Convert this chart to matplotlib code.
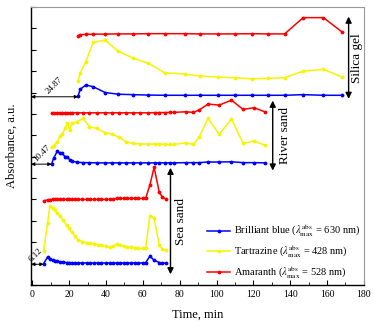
import matplotlib
matplotlib.use("Agg")
from matplotlib import pyplot as plt
from matplotlib.ticker import MultipleLocator

plt.rcParams['font.family'] = ['Liberation Serif', 'DejaVu Serif']
plt.rcParams['mathtext.fontset'] = 'stix'

# time points (min) and absorbance (a.u., curves shifted for each sorbent)
silica_t = [24.87, 26, 29, 33, 39.5, 46.5, 54.5, 63, 72, 83, 91, 101, 110, 119, 128, 137, 147, 158, 168]
silica_blue = [8.85, 9.15, 9.35, 9.27, 9.0, 8.92, 8.9, 8.88, 8.87, 8.87, 8.87, 8.87, 8.87, 8.87, 8.87, 8.87, 8.9, 8.87, 8.87]
silica_yellow = [9.55, 9.92, 10.43, 11.34, 11.45, 10.93, 10.62, 10.36, 9.92, 9.86, 9.77, 9.72, 9.69, 9.64, 9.66, 9.69, 10.0, 10.08, 9.73]
silica_red = [11.66, 11.7, 11.72, 11.73, 11.73, 11.74, 11.74, 11.75, 11.75, 11.75, 11.74, 11.74, 11.74, 11.75, 11.74, 11.74, 12.5, 12.5, 11.84]

river_t = [10.47, 11.5, 13.6, 15, 16.3, 17.7, 19, 20.4, 21.4, 24.4, 27.6, 31, 35, 39.5, 43.5, 47, 51,
           54.5, 58.5, 63, 66.5, 69, 72, 74.6, 77, 83.3, 87.3, 90.5, 95.4, 101.4, 108.1, 114.4, 120.4, 126.1]
river_blue = [5.65, 5.92, 6.26, 6.15, 6.15, 6.0, 6.0, 5.84, 5.79, 5.74, 5.72, 5.72, 5.71, 5.71, 5.71, 5.71, 5.71,
              5.71, 5.71, 5.71, 5.71, 5.71, 5.71, 5.71, 5.71, 5.72, 5.72, 5.72, 5.75, 5.75, 5.76, 5.72, 5.72, 5.71]
river_yellow = [6.46, 6.51, 6.7, 6.95, 7.05, 7.32, 7.56, 7.24, 7.56, 7.63, 7.79, 7.4, 7.32, 7.12, 7.06, 6.9, 6.7,
                6.62, 6.59, 6.59, 6.59, 6.59, 6.58, 6.57, 6.57, 6.65, 6.57, 6.9, 7.79, 7.04, 7.76, 6.62, 6.73, 6.54]
river_red = [8.02, 8.04, 8.05, 8.05, 8.05, 8.05, 8.05, 8.05, 8.05, 8.05, 8.05, 8.05, 8.05, 8.05, 8.05, 8.05, 8.05,
             8.05, 8.05, 8.05, 8.06, 8.06, 8.06, 8.07, 8.07, 8.1, 8.07, 8.18, 8.46, 8.41, 8.64, 8.21, 8.29, 8.1]

sea_t = [6.12, 8.3, 9.6, 11, 12.3, 13.5, 15, 16.5, 18.6, 20, 21.3, 23, 25, 27, 29.5, 31.5, 33.5, 35.5,
         37.5, 40, 42, 44, 45.7, 47.5, 49.5, 51.5, 53.5, 55.5, 57.5, 60, 61.5, 63.8, 66.1, 68.9, 70.5, 72.8]
sea_blue = [1.0, 1.31, 1.22, 1.15, 1.12, 1.1, 1.08, 1.07, 1.05, 1.05, 1.04, 1.04, 1.03, 1.03, 1.03, 1.03, 1.03, 1.03,
            1.03, 1.03, 1.03, 1.03, 1.03, 1.03, 1.03, 1.03, 1.03, 1.03, 1.03, 1.03, 1.04, 1.35, 1.16, 1.05, 1.03, 1.02]
sea_yellow = [1.6, 2.9, 3.71, 3.6, 3.5, 3.38, 3.22, 3.05, 2.8, 2.65, 2.49, 2.3, 2.1, 2.03, 1.98, 1.95, 1.93, 1.89,
              1.85, 1.81, 1.77, 1.8, 1.9, 1.88, 1.82, 1.79, 1.76, 1.74, 1.72, 1.71, 1.71, 3.22, 3.12, 1.87, 1.68, 1.64]
sea_red = [3.93, 3.98, 3.99, 4.0, 4.0, 4.0, 4.0, 4.0, 4.0, 4.0, 4.0, 4.0, 4.0, 4.0, 4.0, 4.0, 4.0, 4.0,
           4.0, 4.0, 4.0, 4.0, 4.05, 4.05, 4.05, 4.05, 4.05, 4.05, 4.05, 4.05, 4.05, 4.67, 5.5, 4.33, 4.12, 4.0]

dye_labels = [r"Brilliant blue ($\lambda_{\rm max}^{\rm abs}$ = 630 nm)",
              r"Tartrazine ($\lambda_{\rm max}^{\rm abs}$ = 428 nm)",
              r"Amaranth ($\lambda_{\rm max}^{\rm abs}$ = 528 nm)"]
dye_colors = ['#0000ff', '#f5f500', '#ff0000']

sorbents = ["Silica gel", "River sand", "Sea sand"]
start_times = [24.87, 10.47, 6.12]
start_levels = [8.8, 5.65, 0.97]

fig = plt.figure(figsize=(3.74, 3.31), dpi=100)
ax = fig.add_axes([0.083, 0.139, 0.89, 0.84])

groups = [(silica_t, [silica_blue, silica_yellow, silica_red]),
          (river_t, [river_blue, river_yellow, river_red]),
          (sea_t, [sea_blue, sea_yellow, sea_red])]
for g, (t, series) in enumerate(groups):
	for i, vals in enumerate(series):
		ax.plot(t, vals, color=dye_colors[i], lw=1.1, marker='.', ms=3.5,
				label=dye_labels[i] if g == 0 else None)

# horizontal arrows: time until the dye front appears
text_pos = [(12, 9.35), (5.2, 6.15), (1.6, 1.4)]
for k in range(3):
	ax.annotate("", xy=(start_times[k], start_levels[k]), xytext=(-0.7, start_levels[k]),
				arrowprops=dict(arrowstyle='<|-|>', color='k', lw=0.7, mutation_scale=5,
								shrinkA=0, shrinkB=0))
	ax.text(text_pos[k][0], text_pos[k][1], f"{start_times[k]:.2f}", rotation=45,
			fontsize=6.5, ha='center', va='center')

# vertical arrows marking each sorbent block
arrow_x = [171.7, 130.5, 75]
arrow_y = [(12.55, 8.7), (8.62, 5.35), (5.48, 0.5)]
label_x = [176, 137, 80.5]
for k in range(3):
	ax.annotate("", xy=(arrow_x[k], arrow_y[k][1]), xytext=(arrow_x[k], arrow_y[k][0]),
				arrowprops=dict(arrowstyle='<|-|>', color='k', lw=1.0, mutation_scale=9,
								shrinkA=0, shrinkB=0))
	ax.text(label_x[k], (arrow_y[k][0] + arrow_y[k][1]) / 2, sorbents[k], rotation=90,
			fontsize=9.5, ha='center', va='center')

ax.set_xlim(-0.7, 180)
ax.set_ylim(0, 13)
ax.xaxis.set_major_locator(MultipleLocator(20))
ax.xaxis.set_minor_locator(MultipleLocator(10))
ax.yaxis.set_major_locator(MultipleLocator(1))
ax.set_yticklabels([])
ax.tick_params(axis='both', which='both', direction='in', top=False, right=False, labelsize=7)
ax.tick_params(axis='both', which='major', length=3.5, width=0.8)
ax.tick_params(axis='x', which='minor', length=2, width=0.6)
for s in ['top', 'right']:
	ax.spines[s].set_color('#999999')
	ax.spines[s].set_linewidth(0.8)
for s in ['left', 'bottom']:
	ax.spines[s].set_linewidth(1.0)

ax.set_xlabel("Time, min", fontsize=9, labelpad=7)
ax.set_ylabel("Absorbance, a.u.", fontsize=9, labelpad=6)

ax.legend(loc='lower right', frameon=False, fontsize=7.5, handlelength=2.2,
		  borderaxespad=0.0, labelspacing=0.4, handletextpad=0.3)

plt.savefig("out.png", dpi=100)
plt.close(fig)
